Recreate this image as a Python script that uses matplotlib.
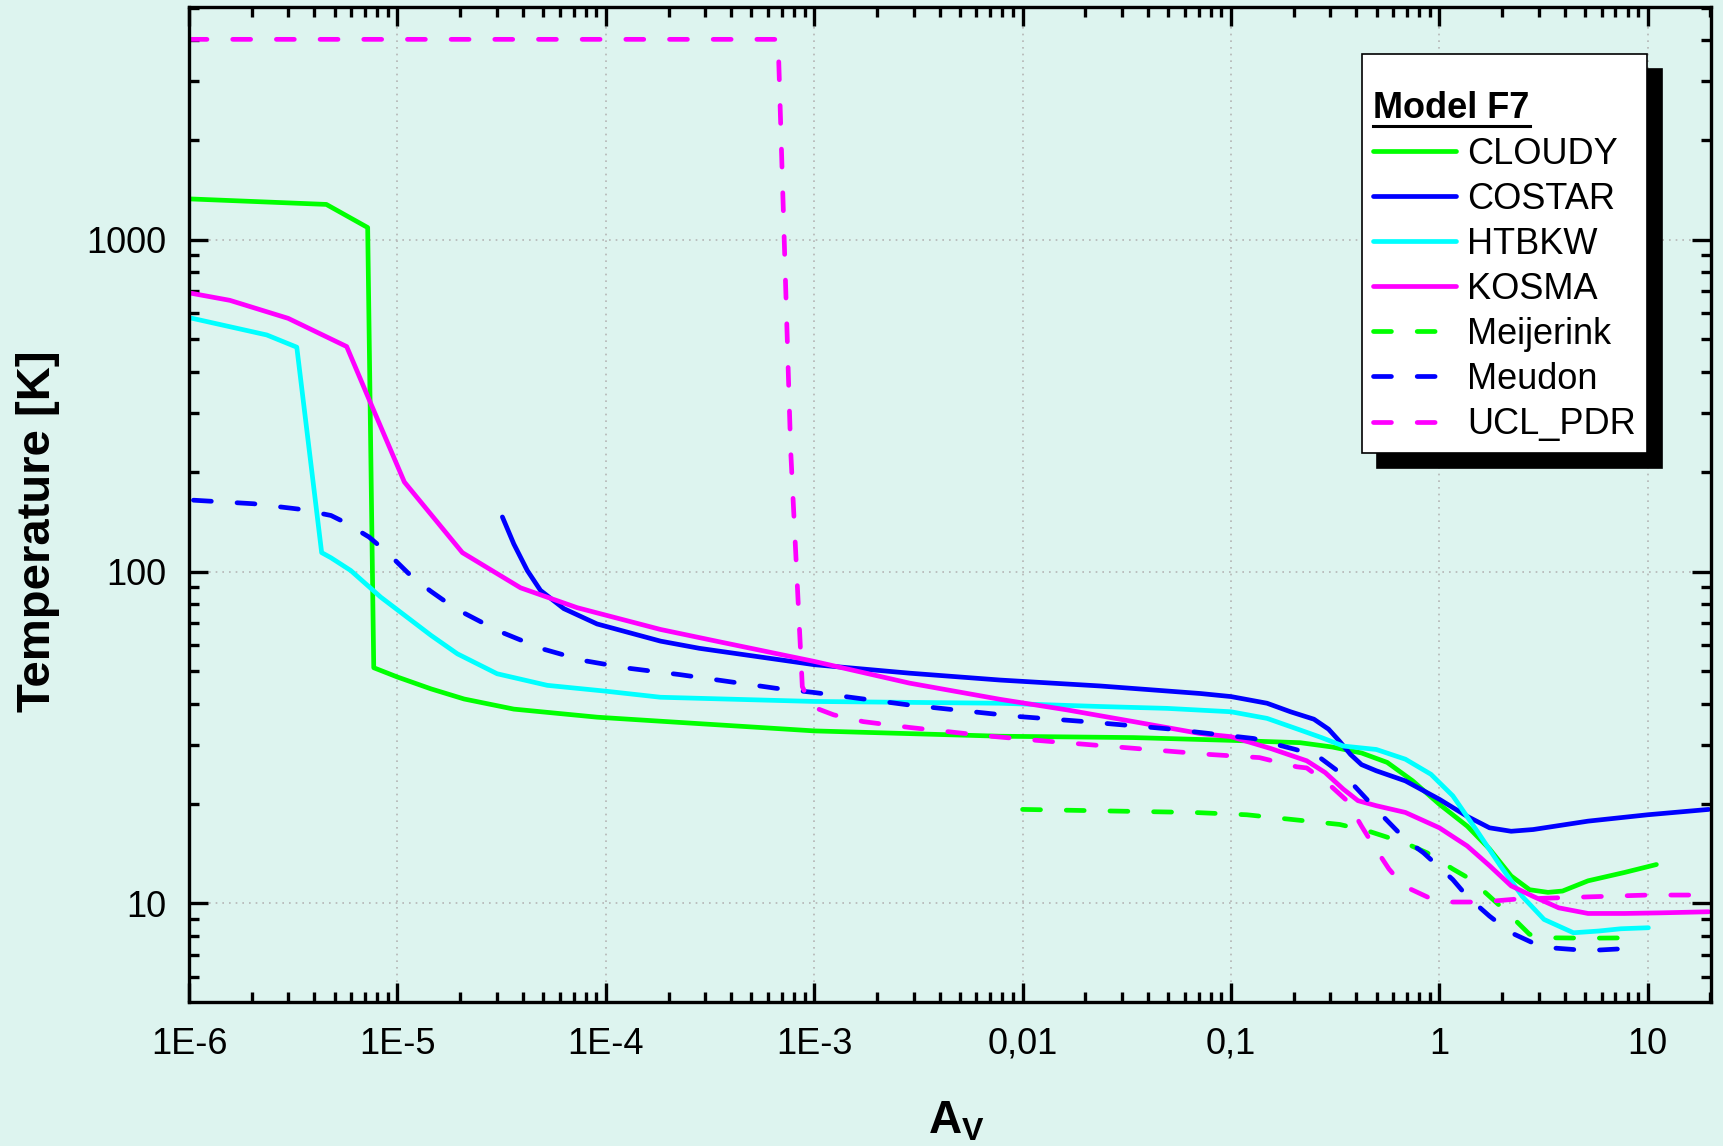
"""
Gas temperature vs. visual extinction A_V for the PDR benchmark
model F7: CLOUDY, COSTAR, HTBKW, KOSMA, Meijerink, Meudon, UCL_PDR.
Writes out.png.
"""
import matplotlib
matplotlib.use("Agg")
import numpy as np
import matplotlib.pyplot as plt
from matplotlib.lines import Line2D
from matplotlib.ticker import LogLocator, NullFormatter

plt.rcParams["font.family"] = "sans-serif"
plt.rcParams["font.sans-serif"] = ["Liberation Sans", "DejaVu Sans"]
plt.rcParams["mathtext.fontset"] = "custom"
plt.rcParams["mathtext.rm"] = "Liberation Sans"
plt.rcParams["mathtext.bf"] = "Liberation Sans:bold"

# ---- data ----
cloudy_av = [1.0e-6, 4.56e-6, 7.2e-6, 7.7e-6, 1.0e-5, 1.45e-5, 2.09e-5, 3.62e-5,
             9.1e-5, 1.83e-4, 1.0e-3, 7.8e-3, 0.0341, 0.1, 0.215, 0.306, 0.423,
             0.562, 0.745, 1.0, 1.36, 1.74, 2.21, 2.71, 3.32, 3.9, 5.17, 7.74, 11.0]
cloudy_t = [1326, 1276, 1087, 51.3, 48.1, 44.3, 41.3, 38.5,
            36.4, 35.4, 33.1, 31.9, 31.6, 31.0, 30.5, 29.6, 28.4,
            26.6, 23.4, 19.9, 17.1, 14.6, 12.1, 11.0, 10.8, 10.9, 11.7, 12.4, 13.1]

costar_av = [3.19e-5, 3.62e-5, 4.2e-5, 4.86e-5, 6.29e-5, 9.08e-5, 1.83e-4, 2.81e-4,
             1.0e-3, 2.87e-3, 7.8e-3, 0.0236, 0.0713, 0.1, 0.149, 0.193, 0.25,
             0.294, 0.332, 0.375, 0.423, 0.498, 0.687, 1.0, 1.36, 1.74, 2.21,
             2.82, 5.17, 10.0, 19.6]
costar_t = [146, 121, 100.7, 87.7, 77.3, 69.5, 61.7, 58.7,
            52.4, 49.4, 47.1, 45.2, 42.9, 42.0, 40.1, 37.8, 35.9,
            33.5, 30.8, 28.1, 26.2, 25.1, 23.4, 20.6, 18.3, 16.9, 16.5,
            16.7, 17.7, 18.5, 19.2]

htbkw_av = [1.0e-6, 2.36e-6, 3.29e-6, 4.33e-6, 4.8e-6, 5.97e-6, 8.32e-6, 1.45e-5,
            1.94e-5, 3.01e-5, 5.24e-5, 1.0e-4, 1.83e-4, 1.0e-3, 7.8e-3, 0.0236,
            0.0493, 0.1, 0.149, 0.215, 0.272, 0.346, 0.498, 0.687, 0.911, 1.16,
            1.54, 1.96, 2.50, 3.18, 4.40, 5.83, 7.43, 10.07]
htbkw_t = [582, 516, 474, 114, 110, 100.7, 83.7, 64.2,
           56.5, 49.2, 45.4, 43.6, 41.8, 40.6, 40.1, 39.2,
           38.7, 37.8, 36.1, 33.3, 31.6, 29.8, 29.1, 27.2, 24.5, 21.1,
           16.3, 13.0, 10.5, 8.95, 8.16, 8.26, 8.39, 8.45]

kosma_av = [1.0e-6, 1.57e-6, 2.99e-6, 5.71e-6, 7.4e-6, 1.08e-5, 2.05e-5, 3.9e-5,
            7.29e-5, 1.83e-4, 3.47e-4, 1.0e-3, 2.87e-3, 7.8e-3, 0.0163, 0.0341,
            0.0713, 0.1, 0.155, 0.231, 0.283, 0.346, 0.407, 0.498, 0.687, 1.0,
            1.36, 1.74, 2.21, 2.82, 3.74, 5.17, 7.74, 11.6, 19.6]
kosma_t = [691, 656, 579, 476, 324, 186, 114, 89.3,
           77.8, 66.9, 61.5, 53.6, 46.1, 41.2, 38.3, 35.3,
           32.5, 31.8, 29.3, 26.9, 24.8, 22.1, 20.4, 19.7, 18.8, 16.9,
           14.9, 13.0, 11.3, 10.5, 9.7, 9.33, 9.33, 9.37, 9.44]

meijerink_av = [0.01, 0.0254, 0.0662, 0.119, 0.215, 0.332, 0.459, 0.687, 0.875,
                1.16, 1.42, 1.88, 2.21, 2.71, 3.45, 5.17, 8.73]
meijerink_t = [19.2, 19.0, 18.8, 18.5, 17.8, 17.3, 16.5, 15.2, 14.2,
               12.7, 11.8, 10.05, 9.16, 8.07, 7.88, 7.86, 7.88]

meudon_av = [1.05e-6, 2.04e-6, 3.41e-6, 4.8e-6, 5.55e-6, 7.31e-6, 8.95e-6, 1.18e-5,
             1.45e-5, 1.9e-5, 3.07e-5, 4.95e-5, 7.85e-5, 1.26e-4, 2.27e-4, 6.53e-4,
             1.0e-3, 2.87e-3, 9.4e-3, 0.0189, 0.0493, 0.1285, 0.204, 0.261, 0.319,
             0.391, 0.498, 0.687, 0.84, 1.16, 1.36, 1.74, 2.21, 2.82, 3.45, 5.17, 9.1]
meudon_t = [164, 160, 154, 147.5, 141, 127, 114, 96.1,
            87.1, 77.3, 66.1, 58.5, 53.9, 51.2, 48.9, 44.5,
            43.2, 39.6, 36.6, 35.4, 33.6, 31.4, 29.1, 27.8, 25.3,
            22.6, 19.2, 15.6, 14.2, 11.8, 10.5, 9.16, 8.16, 7.6, 7.35, 7.21, 7.35]

ucl_av = [1.0e-6, 6.71e-4, 7.71e-4, 8.77e-4, 9.73e-4, 1.24e-3, 1.72e-3, 2.87e-3,
          6.64e-3, 0.0117, 0.0306, 0.0796, 0.137, 0.207, 0.231, 0.294, 0.36,
          0.423, 0.478, 0.573, 0.673, 0.893, 1.09, 1.6, 2.31, 3.74, 6.08, 10.0, 19.6]
ucl_t = [4010, 4010, 233, 45.0, 39.2, 37.0, 35.3, 33.9,
         32.0, 31.0, 29.5, 28.1, 27.5, 25.8, 25.6, 22.9, 20.4,
         17.1, 15.1, 12.7, 11.3, 10.4, 10.1, 10.1, 10.3, 10.4, 10.5, 10.6, 10.6]

x_ticks = [1e-6, 1e-5, 1e-4, 1e-3, 1e-2, 1e-1, 1, 10]
x_ticklabels = ["1E-6", "1E-5", "1E-4", "1E-3", "0,01", "0,1", "1", "10"]
y_ticks = [10, 100, 1000]
y_ticklabels = ["10", "100", "1000"]

BG = "#ddf4ef"
GREEN, BLUE, CYAN, MAGENTA = "#00ff00", "#0000ff", "#00ffff", "#ff00ff"
LW = 3.4
DASH = (3.8, 5.45)


def main():
    fig = plt.figure(figsize=(17.23, 11.46), dpi=100, facecolor=BG)
    ax = fig.add_axes([0.1097, 0.1257, 0.8833, 0.8686], facecolor=BG)
    ax.set_xscale("log")
    ax.set_yscale("log")

    solid = dict(lw=LW, solid_capstyle="round", solid_joinstyle="round")
    dashed = dict(lw=LW, dashes=DASH, dash_capstyle="round",
                  dash_joinstyle="round")

    ax.plot(cloudy_av, cloudy_t, color=GREEN, label="CLOUDY", **solid)
    ax.plot(costar_av, costar_t, color=BLUE, label="COSTAR", **solid)
    ax.plot(htbkw_av, htbkw_t, color=CYAN, label="HTBKW", **solid)
    ax.plot(kosma_av, kosma_t, color=MAGENTA, label="KOSMA", **solid)
    ax.plot(meijerink_av, meijerink_t, color=GREEN, label="Meijerink", **dashed)
    ax.plot(meudon_av, meudon_t, color=BLUE, label="Meudon", **dashed)
    ax.plot(ucl_av, ucl_t, color=MAGENTA, label="UCL_PDR", **dashed)

    ax.set_xlim(1e-6, 20.1)
    ax.set_ylim(5.05, 5035)

    # ---- ticks / grid ----
    ax.set_xticks(x_ticks, labels=x_ticklabels)
    ax.set_yticks(y_ticks, labels=y_ticklabels)
    ax.xaxis.set_minor_locator(LogLocator(base=10, subs=np.arange(2, 10),
                                          numticks=60))
    ax.yaxis.set_minor_locator(LogLocator(base=10, subs=np.arange(2, 10),
                                          numticks=60))
    ax.xaxis.set_minor_formatter(NullFormatter())
    ax.yaxis.set_minor_formatter(NullFormatter())
    ax.tick_params(which="both", direction="in", top=True, right=True,
                   width=2.4, labelsize=26)
    ax.tick_params(which="major", length=14)
    ax.tick_params(which="minor", length=7.5)
    ax.tick_params(axis="x", which="major", pad=18)
    ax.tick_params(axis="y", which="major", pad=16)
    for sp in ax.spines.values():
        sp.set_linewidth(2.4)
    ax.grid(True, which="major", color="#b5b5b5",
            linestyle=(0, (1, 3)), linewidth=1.2)
    ax.set_axisbelow(True)

    # ---- axis labels ----
    ax.set_ylabel("Temperature [K]", fontsize=34, fontweight="bold")
    ax.yaxis.set_label_coords(-0.085, 0.473)
    ax.set_xlabel(r"$\mathbf{A}_{\mathbf{V}}$", fontsize=33)
    ax.xaxis.set_label_coords(0.504, -0.0975)

    # ---- legend with hard black drop shadow ----
    leg = ax.legend(loc="upper right",
                    bbox_to_anchor=(1646.7 / 1723, 1 - 54 / 1146),
                    bbox_transform=fig.transFigure, borderaxespad=0,
                    title="\nModel F7",
                    title_fontproperties={"weight": "bold", "size": 26},
                    alignment="left", fontsize=26, frameon=True,
                    fancybox=False, framealpha=1, facecolor="white",
                    edgecolor="black", handlelength=2.3, handletextpad=0.3,
                    labelspacing=0.28, borderpad=0.3,
                    shadow={"ox": 10.8, "oy": -10.8, "color": "black",
                            "alpha": 1})
    leg.get_frame().set_linewidth(1.2)
    leg.get_title().set_linespacing(0.69)

    # underline the legend title
    fig.canvas.draw()
    tb = leg.get_title().get_window_extent()
    inv = fig.transFigure.inverted()
    (x0, y0), (x1, _) = inv.transform([[tb.x0, tb.y0], [tb.x1, tb.y1]])
    fig.add_artist(Line2D([x0, x1], [y0, y0], transform=fig.transFigure,
                          color="black", lw=2.2, zorder=5))

    fig.savefig("out.png", dpi=100, facecolor=BG)
    plt.close(fig)


if __name__ == "__main__":
    main()
